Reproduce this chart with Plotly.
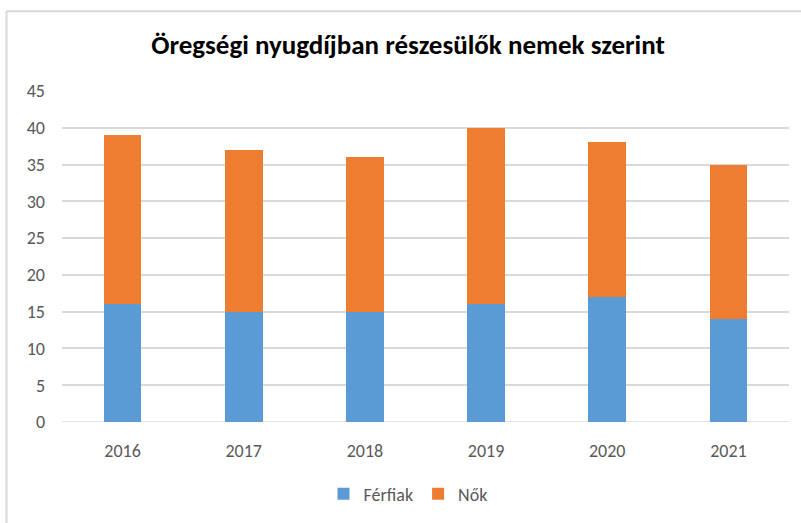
import plotly.graph_objects as go

years = ["2016", "2017", "2018", "2019", "2020", "2021"]
ferfiak = [16, 15, 15, 16, 17, 14]
nok = [23, 22, 21, 24, 21, 21]
y_ticks = [0, 5, 10, 15, 20, 25, 30, 35, 40, 45]

FONT = "Carlito, Calibri, Lato, sans-serif"

fig = go.Figure()
fig.add_trace(go.Bar(x=years, y=ferfiak, name="Férfiak", marker_color="#5B9BD5",
                     marker_line_width=0))
fig.add_trace(go.Bar(x=years, y=nok, name="Nők", marker_color="#ED7D31",
                     marker_line_width=0))

L, R, T, B = 62, 12, 91, 100
W, H = 801, 523
pw, ph = W - L - R, H - T - B

fig.update_layout(
    barmode="stack",
    bargap=0.69,
    width=W, height=H,
    margin=dict(l=L, r=R, t=T, b=B),
    paper_bgcolor="white", plot_bgcolor="white",
    font=dict(family=FONT, color="#595959", size=18),
    title=dict(text="<b>Öregségi nyugdíjban részesülők nemek szerint</b>",
               x=(408) / W, xanchor="center", y=1 - 45 / H, yanchor="middle",
               font=dict(family=FONT, size=27, color="black")),
    xaxis=dict(showgrid=False, showline=False, ticks="", ticklabelstandoff=16),
    yaxis=dict(range=[0, 45], tickvals=y_ticks, showgrid=True, gridcolor="#D9D9D9",
               gridwidth=1.5, zeroline=False, showline=False, ticks="",
               ticklabelstandoff=16),
    legend=dict(orientation="h", x=(408 - L) / pw, xanchor="center",
                y=-(494 - (H - B)) / ph, yanchor="middle",
                font=dict(size=18, color="#595959"), itemwidth=30,
                traceorder="normal"),
    showlegend=True,
    shapes=[
        dict(type="line", xref="paper", yref="paper",
             x0=(6.5 - L) / pw, x1=2, y0=((H - B) - 11) / ph, y1=((H - B) - 11) / ph,
             line=dict(color="#D9D9D9", width=2), layer="below"),
        dict(type="line", xref="paper", yref="paper",
             x0=(6.5 - L) / pw, x1=(6.5 - L) / pw, y0=((H - B) - 11) / ph, y1=-2,
             line=dict(color="#D9D9D9", width=2), layer="below"),
        dict(type="line", xref="paper", yref="y", x0=0, x1=1, y0=0, y1=0,
             line=dict(color="#D9D9D9", width=1.5), layer="below"),
    ],
)

fig.write_html("out.html", config={"displayModeBar": False},
               post_script="document.body.style.margin='0';document.body.style.overflow='hidden';")
